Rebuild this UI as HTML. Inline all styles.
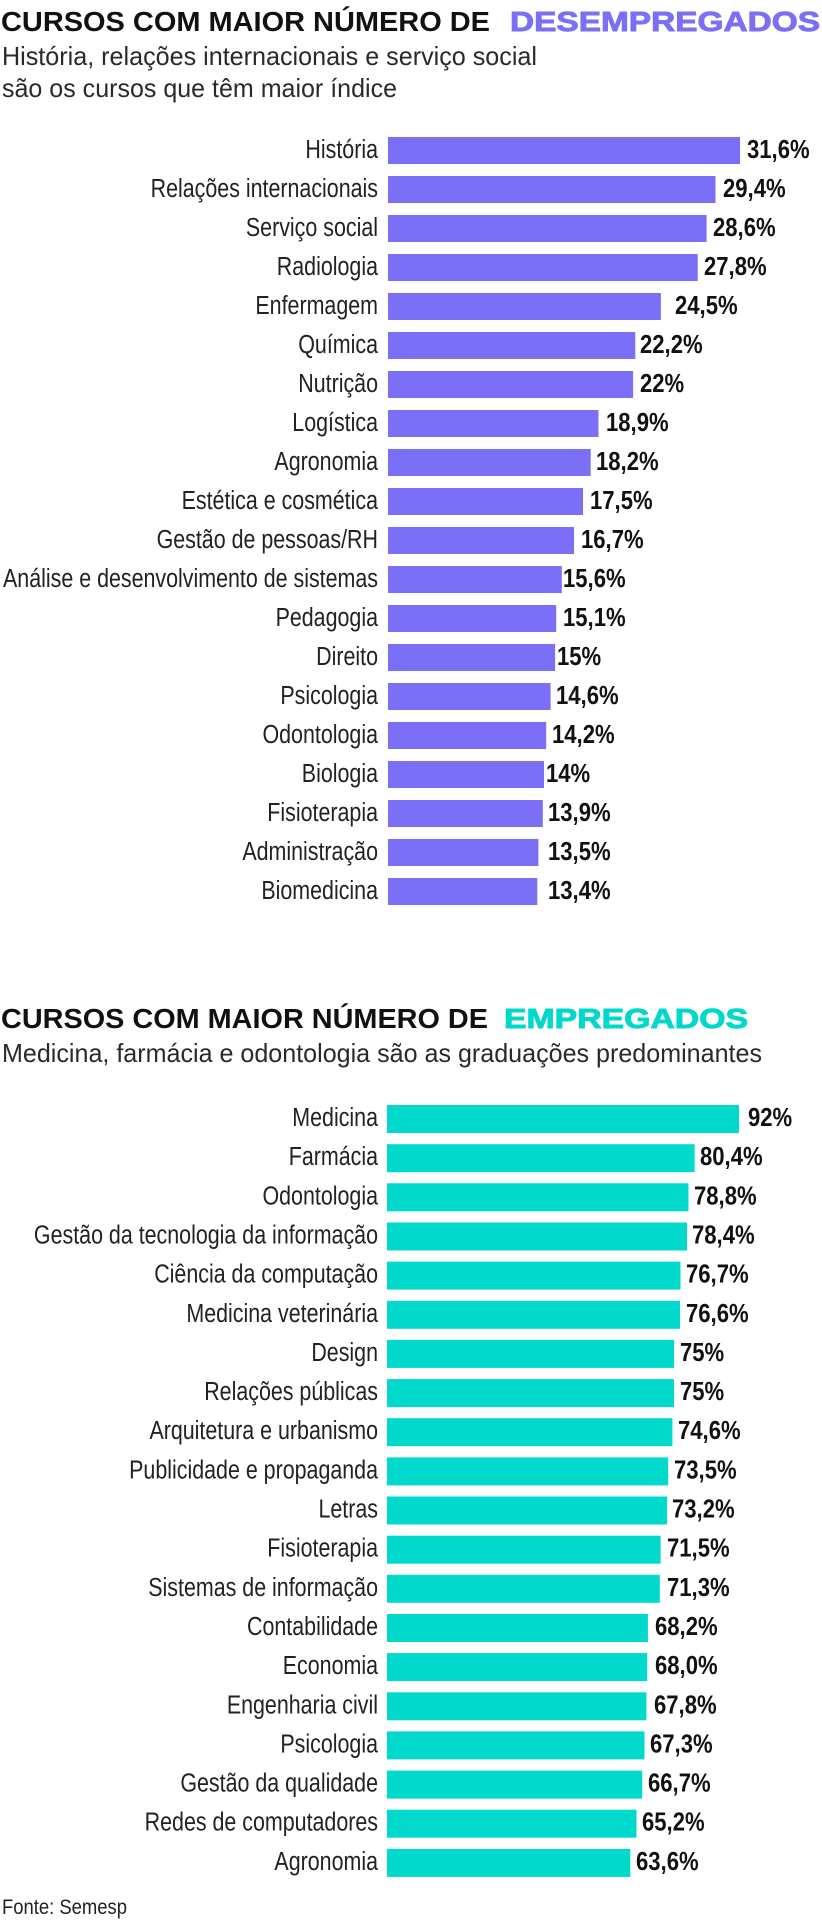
<!DOCTYPE html>
<html><head><meta charset="utf-8"><style>
html,body{margin:0;padding:0;background:#fff;}
svg{display:block;}
.lb{font-family:"Liberation Sans",sans-serif;font-size:26px;fill:#222;}
.vl{font-family:"Liberation Sans",sans-serif;font-size:26px;font-weight:bold;fill:#111;}
</style></head><body>
<svg width="822" height="1920" viewBox="0 0 822 1920" xmlns="http://www.w3.org/2000/svg">
<rect width="822" height="1920" fill="#fff"/>
<!-- Title 1 -->
<text x="1" y="31" font-family="Liberation Sans, sans-serif" font-size="28" font-weight="bold" fill="#111" textLength="489" lengthAdjust="spacingAndGlyphs">CURSOS COM MAIOR NÚMERO DE</text>
<text x="510" y="31" font-family="Liberation Sans, sans-serif" font-size="28" font-weight="bold" fill="#7B6FF5" stroke="#7B6FF5" stroke-width="0.9" textLength="310" lengthAdjust="spacingAndGlyphs">DESEMPREGADOS</text>
<text x="2" y="65" font-family="Liberation Sans, sans-serif" font-size="26" fill="#2a2a2a" textLength="535" lengthAdjust="spacingAndGlyphs">História, relações internacionais e serviço social</text>
<text x="2" y="97" font-family="Liberation Sans, sans-serif" font-size="26" fill="#2a2a2a" textLength="395" lengthAdjust="spacingAndGlyphs">são os cursos que têm maior índice</text>

<!-- Chart 1 bars -->
<g fill="#7B6FF7">
<rect x="388" y="137" width="352.0" height="27"/>
<rect x="388" y="176" width="327.5" height="27"/>
<rect x="388" y="215" width="318.6" height="27"/>
<rect x="388" y="254" width="309.7" height="27"/>
<rect x="388" y="293" width="272.9" height="27"/>
<rect x="388" y="332" width="247.3" height="27"/>
<rect x="388" y="371" width="245.1" height="27"/>
<rect x="388" y="410" width="210.5" height="27"/>
<rect x="388" y="449" width="202.7" height="27"/>
<rect x="388" y="488" width="195.0" height="27"/>
<rect x="388" y="527" width="186.0" height="27"/>
<rect x="388" y="566" width="173.8" height="27"/>
<rect x="388" y="605" width="168.2" height="27"/>
<rect x="388" y="644" width="167.1" height="27"/>
<rect x="388" y="683" width="162.6" height="27"/>
<rect x="388" y="722" width="158.2" height="27"/>
<rect x="388" y="761" width="156.0" height="27"/>
<rect x="388" y="800" width="154.8" height="27"/>
<rect x="388" y="839" width="150.4" height="27"/>
<rect x="388" y="878" width="149.3" height="27"/>
</g>
<g class="lb" text-anchor="end">
<text class="lb" transform="translate(378,158) scale(0.824,1)">História</text>
<text class="lb" transform="translate(378,197) scale(0.824,1)">Relações internacionais</text>
<text class="lb" transform="translate(378,236) scale(0.824,1)">Serviço social</text>
<text class="lb" transform="translate(378,275) scale(0.824,1)">Radiologia</text>
<text class="lb" transform="translate(378,314) scale(0.824,1)">Enfermagem</text>
<text class="lb" transform="translate(378,353) scale(0.824,1)">Química</text>
<text class="lb" transform="translate(378,392) scale(0.824,1)">Nutrição</text>
<text class="lb" transform="translate(378,431) scale(0.824,1)">Logística</text>
<text class="lb" transform="translate(378,470) scale(0.824,1)">Agronomia</text>
<text class="lb" transform="translate(378,509) scale(0.824,1)">Estética e cosmética</text>
<text class="lb" transform="translate(378,548) scale(0.824,1)">Gestão de pessoas/RH</text>
<text class="lb" transform="translate(378,587) scale(0.824,1)">Análise e desenvolvimento de sistemas</text>
<text class="lb" transform="translate(378,626) scale(0.824,1)">Pedagogia</text>
<text class="lb" transform="translate(378,665) scale(0.824,1)">Direito</text>
<text class="lb" transform="translate(378,704) scale(0.824,1)">Psicologia</text>
<text class="lb" transform="translate(378,743) scale(0.824,1)">Odontologia</text>
<text class="lb" transform="translate(378,782) scale(0.824,1)">Biologia</text>
<text class="lb" transform="translate(378,821) scale(0.824,1)">Fisioterapia</text>
<text class="lb" transform="translate(378,860) scale(0.824,1)">Administração</text>
<text class="lb" transform="translate(378,899) scale(0.824,1)">Biomedicina</text>
</g>
<g>
<text class="vl" transform="translate(747,158) scale(0.85,1)">31,6%</text>
<text class="vl" transform="translate(723,197) scale(0.85,1)">29,4%</text>
<text class="vl" transform="translate(713,236) scale(0.85,1)">28,6%</text>
<text class="vl" transform="translate(704,275) scale(0.85,1)">27,8%</text>
<text class="vl" transform="translate(675,314) scale(0.85,1)">24,5%</text>
<text class="vl" transform="translate(640,353) scale(0.85,1)">22,2%</text>
<text class="vl" transform="translate(640,392) scale(0.85,1)">22%</text>
<text class="vl" transform="translate(606,431) scale(0.85,1)">18,9%</text>
<text class="vl" transform="translate(596,470) scale(0.85,1)">18,2%</text>
<text class="vl" transform="translate(590,509) scale(0.85,1)">17,5%</text>
<text class="vl" transform="translate(581,548) scale(0.85,1)">16,7%</text>
<text class="vl" transform="translate(563,587) scale(0.85,1)">15,6%</text>
<text class="vl" transform="translate(563,626) scale(0.85,1)">15,1%</text>
<text class="vl" transform="translate(557,665) scale(0.85,1)">15%</text>
<text class="vl" transform="translate(556,704) scale(0.85,1)">14,6%</text>
<text class="vl" transform="translate(552,743) scale(0.85,1)">14,2%</text>
<text class="vl" transform="translate(546,782) scale(0.85,1)">14%</text>
<text class="vl" transform="translate(548,821) scale(0.85,1)">13,9%</text>
<text class="vl" transform="translate(548,860) scale(0.85,1)">13,5%</text>
<text class="vl" transform="translate(548,899) scale(0.85,1)">13,4%</text>
</g>

<!-- Title 2 -->
<text x="1" y="1028" font-family="Liberation Sans, sans-serif" font-size="28" font-weight="bold" fill="#111" textLength="487" lengthAdjust="spacingAndGlyphs">CURSOS COM MAIOR NÚMERO DE</text>
<text x="504" y="1028" font-family="Liberation Sans, sans-serif" font-size="28" font-weight="bold" fill="#00D8CB" stroke="#00D8CB" stroke-width="0.9" textLength="244" lengthAdjust="spacingAndGlyphs">EMPREGADOS</text>
<text x="2" y="1062" font-family="Liberation Sans, sans-serif" font-size="26" fill="#2a2a2a" textLength="760" lengthAdjust="spacingAndGlyphs">Medicina, farmácia e odontologia são as graduações predominantes</text>

<!-- Chart 2 bars -->
<g fill="#00D9CC">
<rect x="387" y="1105.0" width="352.0" height="28"/>
<rect x="387" y="1144.2" width="307.6" height="28"/>
<rect x="387" y="1183.3" width="301.5" height="28"/>
<rect x="387" y="1222.5" width="300.0" height="28"/>
<rect x="387" y="1261.6" width="293.5" height="28"/>
<rect x="387" y="1300.8" width="293.1" height="28"/>
<rect x="387" y="1339.9" width="287.0" height="28"/>
<rect x="387" y="1379.1" width="287.0" height="28"/>
<rect x="387" y="1418.2" width="285.4" height="28"/>
<rect x="387" y="1457.4" width="281.2" height="28"/>
<rect x="387" y="1496.5" width="280.1" height="28"/>
<rect x="387" y="1535.7" width="273.6" height="28"/>
<rect x="387" y="1574.8" width="272.8" height="28"/>
<rect x="387" y="1614.0" width="260.9" height="28"/>
<rect x="387" y="1653.1" width="260.2" height="28"/>
<rect x="387" y="1692.3" width="259.4" height="28"/>
<rect x="387" y="1731.4" width="257.5" height="28"/>
<rect x="387" y="1770.6" width="255.2" height="28"/>
<rect x="387" y="1809.7" width="249.5" height="28"/>
<rect x="387" y="1848.9" width="243.3" height="28"/>
</g>
<g text-anchor="end">
<text class="lb" transform="translate(378,1126.0) scale(0.824,1)">Medicina</text>
<text class="lb" transform="translate(378,1165.2) scale(0.824,1)">Farmácia</text>
<text class="lb" transform="translate(378,1204.3) scale(0.824,1)">Odontologia</text>
<text class="lb" transform="translate(378,1243.5) scale(0.824,1)">Gestão da tecnologia da informação</text>
<text class="lb" transform="translate(378,1282.6) scale(0.824,1)">Ciência da computação</text>
<text class="lb" transform="translate(378,1321.8) scale(0.824,1)">Medicina veterinária</text>
<text class="lb" transform="translate(378,1360.9) scale(0.824,1)">Design</text>
<text class="lb" transform="translate(378,1400.1) scale(0.824,1)">Relações públicas</text>
<text class="lb" transform="translate(378,1439.2) scale(0.824,1)">Arquitetura e urbanismo</text>
<text class="lb" transform="translate(378,1478.4) scale(0.824,1)">Publicidade e propaganda</text>
<text class="lb" transform="translate(378,1517.5) scale(0.824,1)">Letras</text>
<text class="lb" transform="translate(378,1556.7) scale(0.824,1)">Fisioterapia</text>
<text class="lb" transform="translate(378,1595.8) scale(0.824,1)">Sistemas de informação</text>
<text class="lb" transform="translate(378,1635.0) scale(0.824,1)">Contabilidade</text>
<text class="lb" transform="translate(378,1674.1) scale(0.824,1)">Economia</text>
<text class="lb" transform="translate(378,1713.3) scale(0.824,1)">Engenharia civil</text>
<text class="lb" transform="translate(378,1752.4) scale(0.824,1)">Psicologia</text>
<text class="lb" transform="translate(378,1791.6) scale(0.824,1)">Gestão da qualidade</text>
<text class="lb" transform="translate(378,1830.7) scale(0.824,1)">Redes de computadores</text>
<text class="lb" transform="translate(378,1869.9) scale(0.824,1)">Agronomia</text>
</g>
<g>
<text class="vl" transform="translate(748,1126.0) scale(0.85,1)">92%</text>
<text class="vl" transform="translate(700,1165.2) scale(0.85,1)">80,4%</text>
<text class="vl" transform="translate(694,1204.3) scale(0.85,1)">78,8%</text>
<text class="vl" transform="translate(692,1243.5) scale(0.85,1)">78,4%</text>
<text class="vl" transform="translate(686,1282.6) scale(0.85,1)">76,7%</text>
<text class="vl" transform="translate(686,1321.8) scale(0.85,1)">76,6%</text>
<text class="vl" transform="translate(680,1360.9) scale(0.85,1)">75%</text>
<text class="vl" transform="translate(680,1400.1) scale(0.85,1)">75%</text>
<text class="vl" transform="translate(678,1439.2) scale(0.85,1)">74,6%</text>
<text class="vl" transform="translate(674,1478.4) scale(0.85,1)">73,5%</text>
<text class="vl" transform="translate(672,1517.5) scale(0.85,1)">73,2%</text>
<text class="vl" transform="translate(667,1556.7) scale(0.85,1)">71,5%</text>
<text class="vl" transform="translate(667,1595.8) scale(0.85,1)">71,3%</text>
<text class="vl" transform="translate(655,1635.0) scale(0.85,1)">68,2%</text>
<text class="vl" transform="translate(655,1674.1) scale(0.85,1)">68,0%</text>
<text class="vl" transform="translate(654,1713.3) scale(0.85,1)">67,8%</text>
<text class="vl" transform="translate(650,1752.4) scale(0.85,1)">67,3%</text>
<text class="vl" transform="translate(648,1791.6) scale(0.85,1)">66,7%</text>
<text class="vl" transform="translate(642,1830.7) scale(0.85,1)">65,2%</text>
<text class="vl" transform="translate(636,1869.9) scale(0.85,1)">63,6%</text>
</g>

<text x="2" y="1914" font-family="Liberation Sans, sans-serif" font-size="21" fill="#222" textLength="125" lengthAdjust="spacingAndGlyphs">Fonte: Semesp</text>
</svg>
</body></html>
